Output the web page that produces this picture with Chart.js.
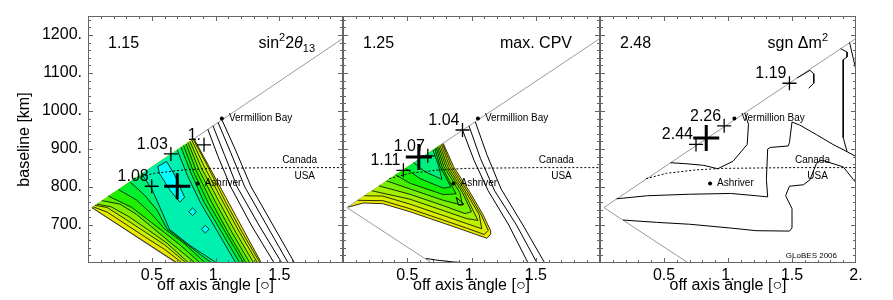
<!DOCTYPE html>
<html lang="en">
<head>
  <meta charset="UTF-8" />
  <title>Off-axis site optimisation</title>
  <script src="https://cdn.jsdelivr.net/npm/chart.js"></script>
  <style>
    body { margin: 0; background: #fff; }
    #wrap { position: relative; width: 893px; height: 300px; }
    #wrap canvas { position: absolute; left: 0; top: 0; }
  </style>
</head>
<body>
  <div id="wrap">
    <canvas id="c1" width="893" height="300"></canvas>
    <canvas id="c2" width="893" height="300"></canvas>
    <canvas id="c3" width="893" height="300"></canvas>
  </div>

  <script>
    const FONT = "'Liberation Sans', Arial, Helvetica, 'DejaVu Sans', sans-serif";

    // axes
    const xLimits = [0, 2];
    const yLimits = [600, 1250];
    const xTickVals = [0.5, 1, 1.5, 2];
    const xTickText = ['0.5', '1.', '1.5', '2.'];
    const yTickVals = [700, 800, 900, 1000, 1100, 1200];
    const yTickText = ['700.', '800.', '900.', '1000.', '1100.', '1200.'];

    // geography shared by the three panels
    const coneUpper = [[0.03, 746], [2.0, 1191]];
    const coneLower = [[0.03, 746], [0.69, 600]];
    const borderLine = [[0.36, 822], [0.52, 836], [0.75, 845], [0.96, 849], [1.5, 851], [2.0, 851]];
    const siteNames = ['Vermillion Bay', 'Ashriver'];
    const sitePos = [[1.05, 980], [0.86, 809]];
    const countryNames = ['Canada', 'USA'];
    const countryPos = [[1.66, 870], [1.70, 828]];

    // panel headings: [text, 0 normal / 1 superscript / -1 subscript, italic]
    const panelValues = ['1.15', '1.25', '2.48'];
    const panelTitles = [
      [['sin', 0], ['2', 1], ['2', 0], ['θ', 0, true], ['13', -1]],
      [['max. CPV', 0]],
      [['sgn Δm', 0], ['2', 1]]
    ];

    // panel 1 (sin^2 2theta13): filled levels, yellow -> cyan
    const p1Colors = ['#e8e800', '#ccf000', '#a8f000', '#80f000', '#50f000', '#20f000', '#00f030', '#00f070', '#00f0b0'];
    const p1PeakColor = '#00ffff';
    const p1Outline = [[0.03, 746], [0.70, 600], [1.36, 600], [0.83, 928]];
    const p1Left = [
      [[0.04, 748], [0.15, 734], [0.30, 701], [0.45, 668], [0.60, 636], [0.74, 600]],
      [[0.055, 752], [0.15, 746], [0.30, 714], [0.45, 681], [0.60, 648], [0.77, 600]],
      [[0.07, 755], [0.18, 748], [0.32, 722], [0.46, 690], [0.62, 652], [0.79, 600]],
      [[0.11, 764], [0.25, 755], [0.38, 728], [0.50, 695], [0.66, 650], [0.84, 600]],
      [[0.16, 776], [0.34, 747], [0.50, 706], [0.60, 680], [0.72, 648], [0.88, 600]],
      [[0.24, 793], [0.38, 766], [0.50, 728], [0.60, 690], [0.76, 650], [0.92, 600]],
      [[0.33, 813], [0.44, 780], [0.54, 740], [0.62, 690], [0.78, 648], [0.97, 600]],
      [[0.42, 834], [0.50, 795], [0.56, 750], [0.64, 688], [0.80, 646], [1.01, 600]]
    ];
    const p1Right = [
      [[1.35, 600], [1.21, 680], [1.08, 760], [0.93, 860], [0.825, 926]],
      [[1.33, 600], [1.19, 680], [1.06, 760], [0.91, 855], [0.815, 923]],
      [[1.30, 600], [1.16, 680], [1.03, 760], [0.89, 850], [0.80, 920]],
      [[1.27, 600], [1.13, 680], [1.00, 760], [0.87, 846], [0.785, 917]],
      [[1.24, 600], [1.10, 680], [0.97, 760], [0.85, 842], [0.77, 913]],
      [[1.22, 600], [1.08, 680], [0.94, 760], [0.83, 838], [0.75, 909]],
      [[1.19, 600], [1.05, 680], [0.91, 760], [0.81, 835], [0.73, 904]],
      [[1.16, 600], [1.02, 680], [0.88, 760], [0.78, 830], [0.70, 897]]
    ];
    const p1Peaks = [
      [[0.547, 854], [0.617, 867], [0.68, 831], [0.758, 773], [0.72, 760], [0.64, 793], [0.56, 836], [0.547, 854]],
      [[0.79, 735], [0.82, 745], [0.85, 735], [0.82, 725], [0.79, 735]],
      [[0.89, 689], [0.92, 699], [0.95, 689], [0.92, 679], [0.89, 689]]
    ];
    const p1Contours = [
      [[0.94, 952], [1.02, 880], [1.12, 800], [1.28, 700], [1.46, 600]],
      [[0.98, 961], [1.07, 885], [1.17, 800], [1.34, 700], [1.52, 600]],
      [[1.02, 970], [1.12, 890], [1.23, 800], [1.40, 700], [1.57, 600]],
      [[1.05, 977], [1.16, 895], [1.28, 800], [1.45, 700], [1.62, 600]]
    ];
    const p1Marks = [[0.65, 887], [0.91, 911], [0.50, 802]];
    const p1MarkText = ['1.03', '1.', '1.08'];
    const p1Best = [0.70, 802];

    // panel 2 (max. CPV)
    const p2Colors = ['#e8e800', '#dcee00', '#c0f000', '#a0f000', '#78f000', '#48f000', '#10f000', '#00f040', '#00f080'];
    const p2Bands = [
      [[0.04, 747], [0.16, 758], [0.31, 756], [0.52, 735], [0.78, 705], [0.96, 684], [1.12, 665], [1.15, 676], [1.15, 684], [1.09, 727], [0.99, 785], [0.86, 854], [0.78, 915]],
      [[0.114, 765], [0.31, 764], [0.52, 743], [0.78, 713], [0.96, 692], [1.10, 675], [1.13, 686], [1.075, 727], [0.975, 785], [0.845, 854], [0.775, 913]],
      [[0.167, 777], [0.31, 776], [0.52, 755], [0.78, 725], [0.96, 704], [1.08, 690], [1.06, 727], [0.96, 785], [0.83, 854], [0.765, 912]],
      [[0.225, 790], [0.52, 768], [0.78, 738], [0.96, 717], [1.05, 712], [0.945, 785], [0.815, 854], [0.755, 909]],
      [[0.28, 803], [0.52, 781], [0.78, 751], [0.95, 730], [1.00, 735], [0.93, 785], [0.80, 854], [0.745, 907]],
      [[0.34, 816], [0.52, 795], [0.78, 765], [0.93, 752], [0.91, 785], [0.785, 854], [0.735, 905]],
      [[0.41, 832], [0.52, 810], [0.78, 780], [0.88, 782], [0.77, 854], [0.725, 903]],
      [[0.486, 849], [0.60, 822], [0.78, 797], [0.84, 800], [0.755, 854], [0.715, 900]],
      [[0.55, 864], [0.64, 840], [0.77, 820], [0.74, 860], [0.70, 897]]
    ];
    const p2Contours = [
      [[0.88, 773], [0.94, 755], [0.90, 752], [0.88, 773]],
      [[0.93, 950], [1.02, 870], [1.13, 790], [1.29, 700], [1.44, 600]],
      [[0.98, 961], [1.07, 875], [1.18, 790], [1.35, 700], [1.51, 600]],
      [[1.03, 971], [1.12, 885], [1.23, 795], [1.40, 700], [1.57, 600]],
      [[0.645, 612], [0.72, 608], [0.85, 603], [0.99, 600]]
    ];
    const p2Marks = [[0.93, 950], [0.66, 882], [0.47, 844]];
    const p2MarkText = ['1.04', '1.07', '1.11'];
    const p2Best = [0.59, 879];

    // panel 3 (sgn dm^2): contour lines only
    const p3Contours = [
      [[0.55, 864], [0.68, 861], [0.81, 857], [0.92, 848], [1.04, 868], [1.15, 912], [1.16, 965], [1.13, 995]],
      [[0.13, 769], [0.37, 777], [0.70, 781], [1.02, 783], [1.22, 777], [1.31, 774], [1.30, 820], [1.31, 900], [1.33, 904],
       [1.47, 908], [1.48, 917], [1.50, 971], [1.56, 963], [1.69, 938], [1.82, 912], [1.93, 893], [2.0, 880]],
      [[0.18, 713], [0.44, 707], [0.70, 702], [1.02, 692], [1.22, 685], [1.48, 684], [1.50, 692], [1.50, 743], [1.45, 777],
       [1.48, 802], [1.59, 806], [1.64, 819], [1.69, 861], [1.72, 870], [1.74, 870], [1.90, 853], [2.0, 811]],
      [[1.54, 1087], [1.64, 1107], [1.67, 1098], [1.67, 1073], [1.63, 1060]],
      [[1.88, 1164], [1.93, 1155], [1.93, 1142], [1.90, 1135], [1.90, 1000], [1.90, 930], [1.93, 893]],
      [[1.95, 1180], [2.0, 1107]]
    ];
    const p3Marks = [[1.48, 1073], [0.97, 961], [0.75, 912]];
    const p3MarkText = ['1.19', '2.26', '2.44'];
    const p3Best = [0.83, 929];

    Chart.defaults.font.family = FONT;
    Chart.defaults.color = '#000';

    const pts = arr => arr.map(([x, y]) => ({ x, y }));

    function line(data, color, width, more) {
      return Object.assign({
        data: pts(data), borderColor: color, borderWidth: width,
        pointRadius: 0, fill: false, tension: 0
      }, more || {});
    }
    function band(data, color) {
      return line(data, '#000', 0.8, { fill: 'shape', backgroundColor: color });
    }
    function crosses(list, r, w) {
      return line(list, '#000', 0, {
        showLine: false, pointStyle: 'cross', pointRadius: r,
        pointBorderWidth: w, pointBorderColor: '#000'
      });
    }

    const p1Bands = [p1Outline].concat(p1Left.map((l, i) => l.concat(p1Right[i])));

    const panels = [
      { id: 'c1', left: 88, right: 343, yAxis: true, idx: 0, xTicks: [0.5, 1, 1.5],
        bands: p1Bands, colors: p1Colors, peaks: p1Peaks, contours: p1Contours,
        marks: p1Marks, markText: p1MarkText, best: p1Best },
      { id: 'c2', left: 343, right: 600, yAxis: false, idx: 1, xTicks: [0.5, 1, 1.5],
        bands: p2Bands, colors: p2Colors, peaks: [], contours: p2Contours,
        marks: p2Marks, markText: p2MarkText, best: p2Best },
      { id: 'c3', left: 600, right: 856, yAxis: false, idx: 2, xTicks: [0.5, 1, 1.5, 2],
        bands: [], colors: [], peaks: [], contours: p3Contours,
        marks: p3Marks, markText: p3MarkText, best: p3Best, credit: 'GLoBES 2006' }
    ];

    function buildDatasets(p) {
      const ds = [line(coneUpper, '#9a9a9a', 1), line(coneLower, '#9a9a9a', 1)];
      p.bands.forEach((b, i) => ds.push(band(b, p.colors[i])));
      p.peaks.forEach(b => ds.push(band(b, p1PeakColor)));
      p.contours.forEach(c => ds.push(line(c, '#000', 1)));
      ds.push(line(borderLine, '#000', 1, { borderDash: [2, 2] }));
      ds.push(line(sitePos, '#000', 0, { showLine: false, pointRadius: 2, pointBackgroundColor: '#000', pointBorderWidth: 0 }));
      ds.push(crosses(p.marks, 7, 1.3));
      ds.push(crosses([p.best], 13, 3));
      // first pushed = bottom layer
      ds.forEach((d, i) => { d.order = ds.length - i; });
      return ds;
    }

    function drawRich(ctx, parts, xRight, base) {
      const fontOf = ([, s, it]) => (it ? 'italic ' : '') + (s === 0 ? '16px ' : '11px ') + FONT;
      let w = 0;
      parts.forEach(p => { ctx.font = fontOf(p); w += ctx.measureText(p[0]).width; });
      let x = xRight - w;
      ctx.textAlign = 'left';
      ctx.textBaseline = 'alphabetic';
      parts.forEach(p => {
        ctx.font = fontOf(p);
        const dy = p[1] === 1 ? -7 : (p[1] === -1 ? 4 : 0);
        ctx.fillText(p[0], x, base + dy);
        x += ctx.measureText(p[0]).width;
      });
    }

    function decor(p) {
      return {
        id: 'decor' + p.idx,
        afterDatasetsDraw(chart) {
          const { ctx, chartArea: a, scales: { x, y } } = chart;
          ctx.save();
          // frame with inward ticks
          ctx.strokeStyle = '#666';
          ctx.lineWidth = 1;
          ctx.strokeRect(a.left + 0.5, a.top + 0.5, a.right - a.left - 1, a.bottom - a.top - 1);
          ctx.beginPath();
          for (let i = 1; i < 20; i++) {
            const len = i % 5 === 0 ? 5 : 3;
            const px = Math.round(x.getPixelForValue(i / 10)) + 0.5;
            ctx.moveTo(px, a.bottom); ctx.lineTo(px, a.bottom - len);
            ctx.moveTo(px, a.top); ctx.lineTo(px, a.top + len);
          }
          for (let v = 620; v < yLimits[1]; v += 20) {
            const len = v % 100 === 0 ? 5 : 3;
            const py = Math.round(y.getPixelForValue(v)) + 0.5;
            ctx.moveTo(a.left, py); ctx.lineTo(a.left + len, py);
            ctx.moveTo(a.right, py); ctx.lineTo(a.right - len, py);
          }
          ctx.stroke();

          ctx.fillStyle = '#000';
          // value and title
          ctx.font = '16px ' + FONT;
          ctx.textAlign = 'left';
          ctx.textBaseline = 'alphabetic';
          ctx.fillText(panelValues[p.idx], a.left + 20, a.top + 32);
          drawRich(ctx, panelTitles[p.idx], a.right - 28, a.top + 32);

          // labels next to the crosses
          ctx.font = '16px ' + FONT;
          ctx.textAlign = 'right';
          p.marks.forEach(([mx, my], i) => {
            ctx.fillText(p.markText[i], x.getPixelForValue(mx) - 3, y.getPixelForValue(my) - 5);
          });

          // sites and countries
          ctx.font = '10px ' + FONT;
          ctx.textAlign = 'left';
          ctx.textBaseline = 'middle';
          sitePos.forEach(([sx, sy], i) => {
            ctx.fillText(siteNames[i], x.getPixelForValue(sx) + 7, y.getPixelForValue(sy));
          });
          ctx.textAlign = 'center';
          countryPos.forEach(([cx, cy], i) => {
            ctx.fillText(countryNames[i], x.getPixelForValue(cx), y.getPixelForValue(cy));
          });

          if (p.credit) {
            ctx.font = '8px ' + FONT;
            ctx.textAlign = 'right';
            ctx.textBaseline = 'alphabetic';
            ctx.fillText(p.credit, a.right - 19, a.bottom - 5);
          }
          ctx.restore();
        }
      };
    }

    panels.forEach(p => {
      new Chart(document.getElementById(p.id), {
        type: 'line',
        data: { datasets: buildDatasets(p) },
        options: {
          responsive: false,
          animation: false,
          events: [],
          layout: { padding: { left: p.yAxis ? 0 : p.left, right: 893 - p.right, top: 7, bottom: 0 } },
          plugins: { legend: { display: false }, tooltip: { enabled: false } },
          scales: {
            x: {
              type: 'linear', position: 'bottom', min: xLimits[0], max: xLimits[1],
              afterBuildTicks: s => { s.ticks = p.xTicks.map(v => ({ value: v })); },
              afterFit: s => { s.height = 37; },
              grid: { display: false, drawTicks: false },
              border: { display: false },
              ticks: {
                autoSkip: false, maxRotation: 0, padding: 3,
                font: { size: 16 },
                callback: v => xTickText[xTickVals.indexOf(v)]
              },
              title: {
                display: true, text: 'off axis angle [○]',
                font: { size: 16 }, padding: { top: 0, bottom: 5 }
              }
            },
            y: {
              type: 'linear', position: 'left', min: yLimits[0], max: yLimits[1],
              display: p.yAxis,
              afterBuildTicks: s => { s.ticks = yTickVals.map(v => ({ value: v })); },
              afterFit: s => { s.width = p.yAxis ? 88 : 0; },
              grid: { display: false, drawTicks: false },
              border: { display: false },
              ticks: {
                padding: 6, font: { size: 16 },
                callback: v => yTickText[yTickVals.indexOf(v)]
              },
              title: {
                display: true, text: 'baseline [km]',
                font: { size: 16 }, padding: { top: 15, bottom: 0 }
              }
            }
          }
        },
        plugins: [decor(p)]
      });
    });
  </script>
</body>
</html>
